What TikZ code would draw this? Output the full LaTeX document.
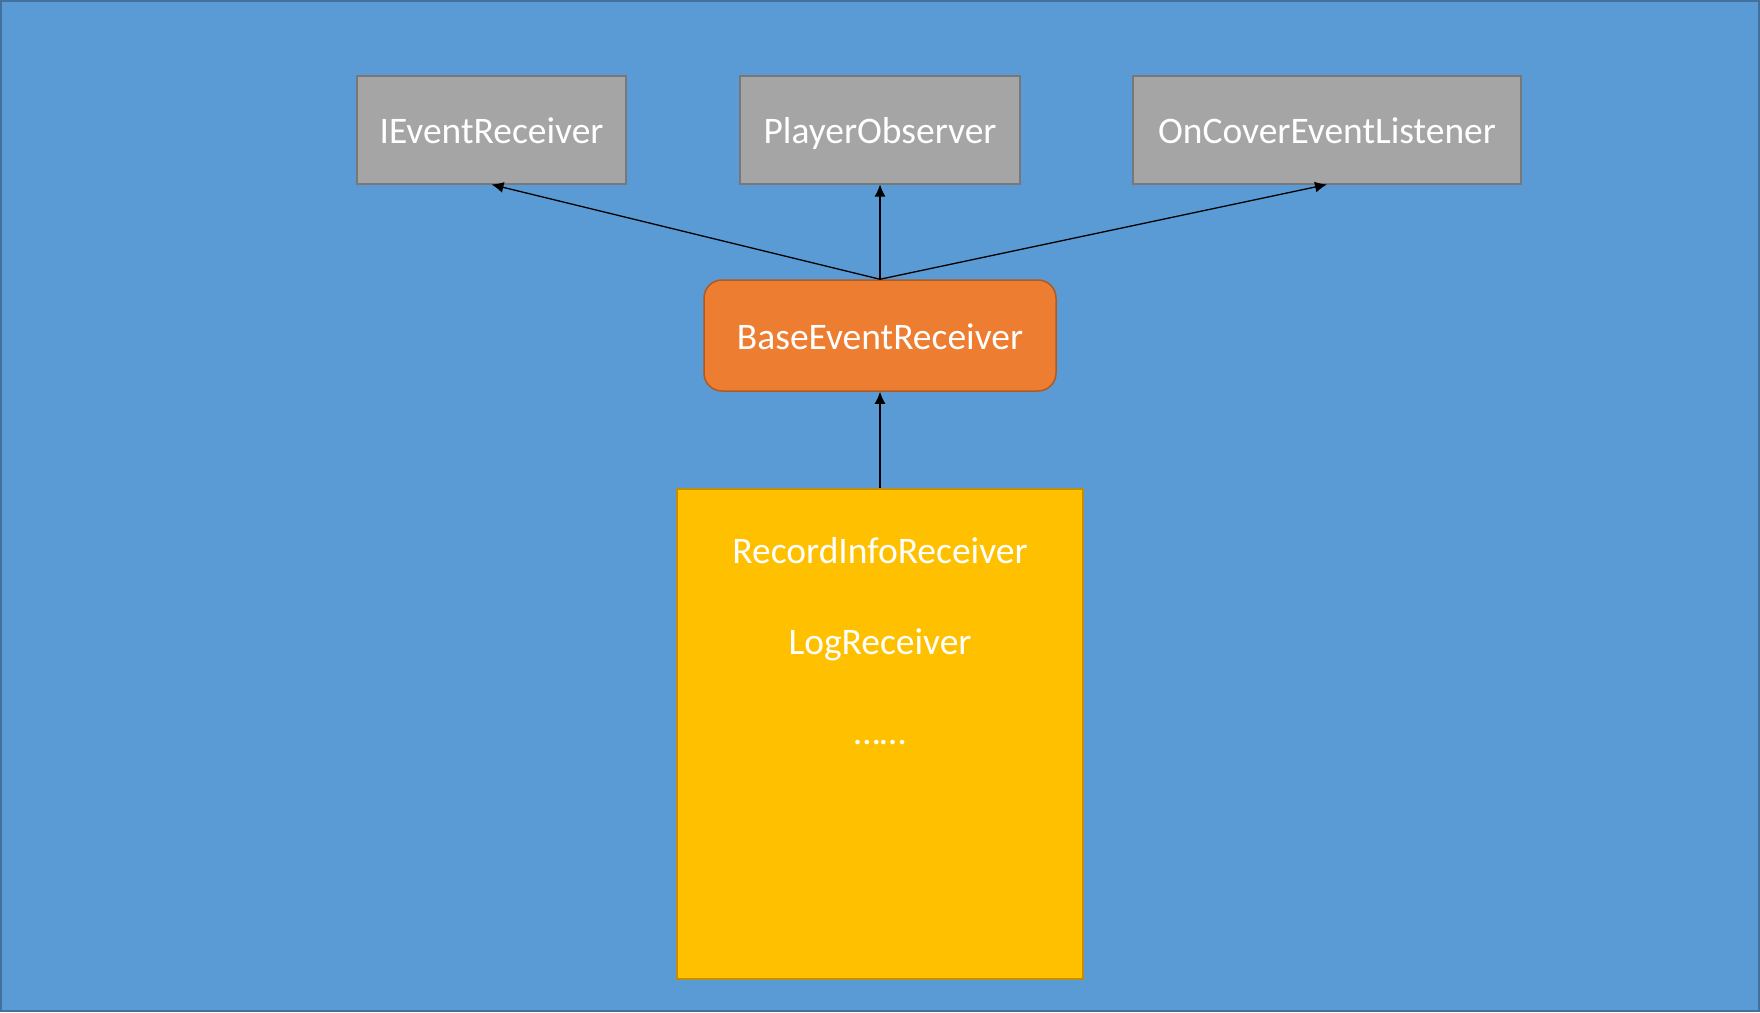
\documentclass[tikz,border=0pt]{standalone}
\usepackage{fontspec}
\setmainfont{Carlito}
\usetikzlibrary{arrows.meta}
\definecolor{bgfill}{HTML}{5B9BD5}
\definecolor{bgline}{HTML}{41719C}
\definecolor{grayfill}{HTML}{A5A5A5}
\definecolor{grayline}{HTML}{787878}
\definecolor{orangefill}{HTML}{ED7D31}
\definecolor{orangeline}{HTML}{AE5A21}
\definecolor{yellowfill}{HTML}{FFC000}
\definecolor{yellowline}{HTML}{BF9000}
\begin{document}
\begin{tikzpicture}[x=1pt,y=-1pt,
  txt/.style={text=white, font=\fontsize{37.5}{44}\selectfont},
  graybox/.style={txt, draw=grayline, fill=grayfill, line width=2pt, minimum height=108pt, inner sep=0pt, text height=27pt, text depth=0pt},
  basebox/.style={txt, draw=orangeline, fill=orangefill, line width=1.5pt, rounded corners=18pt, minimum width=352pt, minimum height=111pt, inner sep=0pt, text height=27pt, text depth=0pt},
  yellowbox/.style={draw=yellowline, fill=yellowfill, line width=2pt, minimum width=406pt, minimum height=490pt, inner sep=0pt},
  lbl/.style={txt, inner sep=0pt, anchor=base},
  arr/.style={draw=black, line width=1.3pt, -{Latex[length=12pt,width=11pt]}}]
\useasboundingbox (0,0) rectangle (1760,1012);
\fill[bgfill] (0,0) rectangle (1760,1012);
\draw[bgline, line width=2pt] (1,1) rectangle (1759,1011);

\node[graybox, minimum width=269pt] (ier) at (491.5,129.5) {IEventReceiver};
\node[graybox, minimum width=280pt] (po) at (880,129.5) {PlayerObserver};
\node[graybox, minimum width=388pt] (ocl) at (1327,129.5) {OnCoverEventListener};
\node[basebox] (ber) at (880,335.5) {BaseEventReceiver};
\node[yellowbox] (yb) at (880,734) {};
\node[lbl] (t1) at (880,563) {RecordInfoReceiver};
\node[lbl] (t2) at (880,654) {LogReceiver};
\node[lbl] (t3) at (880,744) {……};

\draw[arr] (ber.north) -- (ier.south);
\draw[arr] (ber.north) -- (po.south);
\draw[arr] (ber.north) -- (ocl.south);
\draw[arr] (yb.north) -- (ber.south);
\end{tikzpicture}
\end{document}
